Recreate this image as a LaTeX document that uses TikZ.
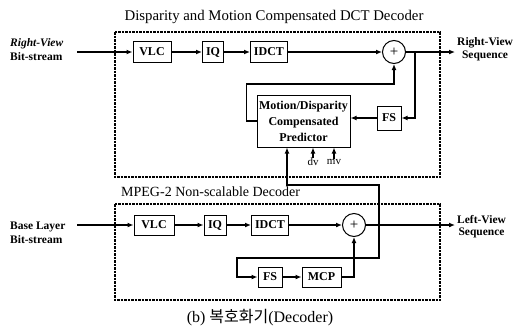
\documentclass[tikz,border=0pt]{standalone}
\usepackage{fontspec}
\setmainfont{Liberation Serif}
\newfontfamily\krfont{Noto Sans CJK KR}
\usetikzlibrary{arrows.meta}

\tikzset{
  blk/.style={draw, line width=1pt, inner sep=0pt, minimum height=21pt, font=\fontsize{12}{14}\selectfont\bfseries},
  adder/.style={draw, line width=1pt, circle, inner sep=0pt, minimum size=23pt, font=\fontsize{15}{16}\selectfont},
  arr/.style={line width=1.2pt, -{Latex[length=6pt,width=5pt]}},
  frame/.style={line width=1.1pt, dash pattern=on 2.5pt off 1pt},
  side/.style={align=left, inner sep=0pt, font=\fontsize{11.5}{14}\selectfont\bfseries},
  ttl/.style={inner sep=0pt, font=\fontsize{14.8}{16}\selectfont}
}

\begin{document}
\begin{tikzpicture}[x=1pt, y=-1pt]
    \useasboundingbox (0,0) rectangle (522,335);

    % dashed frames and their titles
    \draw[frame] (115,32) rectangle (440,177);
    \draw[frame] (115,204) rectangle (440,300);
    \node[ttl] (ttlA) at (274,17) {Disparity and Motion Compensated DCT Decoder};
    \node[ttl, anchor=west, font=\fontsize{14}{16}\selectfont] (ttlB) at (121,192) {MPEG-2 Non-scalable Decoder};

    % right-view decoder
    \node[side, anchor=west] (rvin) at (10,50) {\itshape Right-View\\Bit-stream};
    \coordinate (inA) at (77,52);
    \node[blk, minimum width=38pt] (vlcA) at (152,52) {VLC};
    \node[blk, minimum width=21pt] (iqA) at (213,52) {IQ};
    \node[blk, minimum width=37pt] (idctA) at (269,52) {IDCT};
    \node[adder] (addA) at (394,52) {+};
    \coordinate (tapA) at (415,52);
    \coordinate (outA) at (455,52);
    \node[side, anchor=west, align=center, font=\fontsize{11.5}{13}\selectfont\bfseries] (rvout) at (457,49) {Right-View\\Sequence};
    \node[blk, minimum width=24pt, minimum height=24pt] (fsA) at (389,118) {FS};
    \node[blk, minimum width=93pt, minimum height=52pt, align=center,
          font=\fontsize{12}{16}\selectfont\bfseries] (pred) at (303.5,121)
          {Motion/Disparity\\Compensated\\Predictor};
    \node[inner sep=0pt, font=\fontsize{11}{12}\selectfont] (dv) at (313,162) {dv};
    \node[inner sep=0pt, font=\fontsize{11}{12}\selectfont] (mv) at (334,162) {mv};

    \draw[arr] (inA) -- (vlcA);
    \draw[arr] (vlcA) -- (iqA);
    \draw[arr] (iqA) -- (idctA);
    \draw[arr] (idctA) -- (addA);
    \draw[arr] (addA) -- (outA);
    \draw[arr] (tapA) |- (fsA);
    \draw[arr] (fsA.west) -- (fsA.west -| pred.east);
    \draw[arr] (pred.west) -- ++(-10,0) -- ++(0,-37) -| (addA);
    \draw[arr] (dv.north) -- (dv.north |- pred.south);
    \draw[arr] (mv.north) -- (mv.north |- pred.south);

    % base layer decoder
    \node[side, anchor=west] (blin) at (10,233) {Base Layer\\Bit-stream};
    \coordinate (inB) at (77,225);
    \node[blk, minimum width=40pt, minimum height=20pt] (vlcB) at (154,225) {VLC};
    \node[blk, minimum width=22pt, minimum height=20pt] (iqB) at (215,225) {IQ};
    \node[blk, minimum width=37pt, minimum height=20pt] (idctB) at (270,225) {IDCT};
    \node[adder] (addB) at (354,225) {+};
    \coordinate (tapB) at (379,225);
    \coordinate (outB) at (455,225);
    \node[side, anchor=west, align=center, font=\fontsize{11.5}{12}\selectfont\bfseries] (lvout) at (457,227) {Left-View\\Sequence};
    \node[blk, minimum width=24pt, minimum height=20pt] (fsB) at (270,277) {FS};
    \node[blk, minimum width=39pt, minimum height=20pt] (mcpB) at (321.5,277) {MCP};

    \draw[arr] (inB) -- (vlcB);
    \draw[arr] (vlcB) -- (iqB);
    \draw[arr] (iqB) -- (idctB);
    \draw[arr] (idctB) -- (addB);
    \draw[arr] (addB) -- (outB);
    \draw[arr] (tapB) -- ++(0,-40) -| ([xshift=-16.5pt]pred.south);
    \draw[arr] (tapB) -- ++(0,33) -- ++(-142,0) |- (fsB);
    \draw[arr] (fsB) -- (mcpB);
    \draw[arr] (mcpB) -| (addB);

    \node[inner sep=0pt, font=\fontsize{16}{18}\selectfont] (cap) at (260,318) {(b) {\krfont 복호화기}(Decoder)};
\end{tikzpicture}
\end{document}
